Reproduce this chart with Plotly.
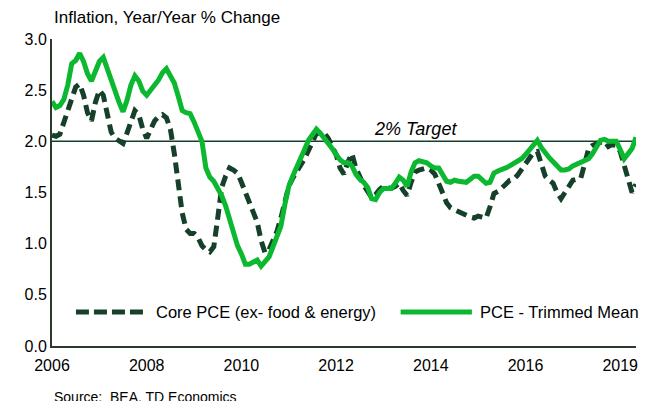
import plotly.graph_objects as go

# Monthly observations, Jan 2006 onward (index = months since Jan 2006)
core_pce = [
    2.06, 2.05, 2.07, 2.19, 2.27, 2.42, 2.53, 2.56, 2.45, 2.28, 2.20, 2.38,
    2.50, 2.45, 2.28, 2.09, 2.03, 2.00, 1.98, 2.08, 2.19, 2.30, 2.26, 2.12,
    2.03, 2.13, 2.20, 2.24, 2.26, 2.23, 2.12, 1.88, 1.55, 1.30, 1.14, 1.10,
    1.10, 1.06, 0.98, 0.94, 0.92, 0.97, 1.25, 1.55, 1.66, 1.74, 1.72, 1.69,
    1.60, 1.51, 1.41, 1.31, 1.21, 1.03, 0.91, 0.94, 1.02, 1.12, 1.25, 1.42,
    1.56, 1.64, 1.70, 1.76, 1.83, 1.91, 2.00, 2.08, 2.08, 2.08, 2.03, 1.95,
    1.87, 1.74, 1.68, 1.80, 1.88, 1.74, 1.65, 1.57, 1.51, 1.45, 1.48, 1.53,
    1.56, 1.55, 1.54, 1.56, 1.59, 1.52, 1.47, 1.60, 1.70, 1.72, 1.73, 1.74,
    1.72, 1.68, 1.59, 1.50, 1.40, 1.35, 1.33, 1.32, 1.30, 1.28, 1.26, 1.25,
    1.27, 1.26, 1.25, 1.36, 1.49, 1.51, 1.54, 1.58, 1.62, 1.63, 1.67, 1.73,
    1.78, 1.84, 1.89, 1.90, 1.76, 1.66, 1.62, 1.59, 1.50, 1.44, 1.50, 1.57,
    1.62, 1.63, 1.64, 1.78, 1.93, 1.96, 1.98, 1.99, 2.00, 1.95, 1.97, 1.96,
    1.90, 1.78, 1.62, 1.50, 1.58,
]

trimmed_mean = [
    2.39, 2.33, 2.35, 2.41, 2.55, 2.76, 2.79, 2.86, 2.78, 2.66, 2.59, 2.68,
    2.78, 2.82, 2.71, 2.58, 2.48, 2.38, 2.29, 2.40, 2.55, 2.64, 2.59, 2.49,
    2.45, 2.50, 2.55, 2.60, 2.67, 2.71, 2.64, 2.57, 2.44, 2.30, 2.28, 2.27,
    2.19, 2.10, 2.00, 1.74, 1.65, 1.61, 1.54, 1.47, 1.37, 1.24, 1.10, 0.98,
    0.90, 0.80, 0.80, 0.82, 0.84, 0.78, 0.82, 0.87, 0.97, 1.07, 1.17, 1.38,
    1.56, 1.66, 1.74, 1.84, 1.92, 2.01, 2.07, 2.12, 2.08, 2.03, 1.99, 1.93,
    1.87, 1.82, 1.79, 1.79, 1.76, 1.68, 1.63, 1.60, 1.55, 1.44, 1.43, 1.50,
    1.54, 1.54, 1.54, 1.59, 1.65, 1.62, 1.56, 1.70, 1.79, 1.81, 1.80, 1.79,
    1.76, 1.74, 1.74, 1.68, 1.61, 1.60, 1.62, 1.61, 1.61, 1.60, 1.63, 1.66,
    1.66, 1.63, 1.59, 1.60, 1.69, 1.71, 1.72, 1.74, 1.76, 1.78, 1.80, 1.83,
    1.87, 1.92, 1.97, 2.01, 1.94, 1.88, 1.84, 1.80, 1.76, 1.72, 1.72, 1.73,
    1.76, 1.78, 1.79, 1.81, 1.83, 1.88, 1.95, 2.01, 2.02, 2.00, 2.00, 2.00,
    1.92, 1.83, 1.88, 1.93, 2.04,
]

series_names = ["Core PCE (ex- food & energy)", "PCE - Trimmed Mean"]
tick_months = [0, 24, 48, 72, 96, 120, 144]
tick_labels = ["2006", "2008", "2010", "2012", "2014", "2016", "2019"]
target = 2.0

months = list(range(len(core_pce)))

DARK = "#17402a"
GREEN = "#0cb830"
FONT = "Liberation Sans, Arial, sans-serif"
DASH = "11px,6px"

fig = go.Figure()
fig.add_trace(go.Scatter(
    x=months, y=core_pce, mode="lines", name=series_names[0],
    line=dict(color=DARK, width=5, dash=DASH), showlegend=False,
))
fig.add_trace(go.Scatter(
    x=months, y=trimmed_mean, mode="lines", name=series_names[1],
    line=dict(color=GREEN, width=5), showlegend=False,
))

# 2% target reference line
fig.add_shape(type="line", xref="paper", x0=0, x1=1, yref="y", y0=target, y1=target,
              line=dict(color=DARK, width=1.5), layer="below")

# Legend (drawn manually to get the long line samples of the original)
leg_y = 0.111
fig.add_shape(type="line", xref="paper", yref="paper", x0=0.041, x1=0.164, y0=leg_y, y1=leg_y,
              line=dict(color=DARK, width=5, dash="13px,5px"))
fig.add_annotation(x=0.174, y=leg_y, xref="paper", yref="paper", text=series_names[0],
                   showarrow=False, xanchor="left", yanchor="middle",
                   font=dict(size=16.5, color="#000000", family=FONT))
fig.add_shape(type="line", xref="paper", yref="paper", x0=0.597, x1=0.719, y0=leg_y, y1=leg_y,
              line=dict(color=GREEN, width=5))
fig.add_annotation(x=0.729, y=leg_y, xref="paper", yref="paper", text=series_names[1],
                   showarrow=False, xanchor="left", yanchor="middle",
                   font=dict(size=16.5, color="#000000", family=FONT))

fig.add_annotation(x=92, y=target, xref="x", yref="y", text="<i>2% Target</i>",
                   showarrow=False, yanchor="bottom", yshift=0,
                   font=dict(size=18, color="#000000", family=FONT))
fig.add_annotation(x=0, y=1.07, xref="paper", yref="paper", text="Inflation, Year/Year % Change",
                   showarrow=False, xanchor="left", yanchor="middle",
                   font=dict(size=17, color="#000000", family=FONT))
fig.add_annotation(x=0, y=-0.166, xref="paper", yref="paper", text="Source:  BEA, TD Economics",
                   showarrow=False, xanchor="left", yanchor="middle",
                   font=dict(size=14, color="#000000", family=FONT))

# The page body has an 8px margin; size and margins compensate so the plot
# area lands at the same place as in the original.
fig.update_layout(
    width=641, height=393,
    margin=dict(l=44, r=11, t=31, b=55),
    paper_bgcolor="white", plot_bgcolor="white",
    font=dict(family=FONT, size=16, color="#000000"),
    showlegend=False,
    xaxis=dict(range=[0, len(core_pce) - 1], tickmode="array", tickvals=tick_months,
               ticktext=tick_labels, showgrid=False, zeroline=False, showline=True,
               linecolor="#2b3a2b", linewidth=2, ticks="", tickfont=dict(size=16),
               ticklabelstandoff=4),
    yaxis=dict(range=[0, 3.0], tickmode="array", tickvals=[0, 0.5, 1.0, 1.5, 2.0, 2.5, 3.0],
               ticktext=["0.0", "0.5", "1.0", "1.5", "2.0", "2.5", "3.0"],
               showgrid=False, zeroline=False, showline=True, linecolor="#2b3a2b",
               linewidth=2, ticks="", tickfont=dict(size=16)),
)

fig.write_html("out.html")
